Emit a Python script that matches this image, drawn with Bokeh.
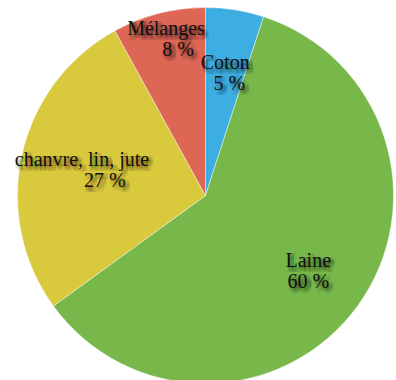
import numpy as np
from bokeh.plotting import figure
from bokeh.models import ColumnDataSource, Range1d
from bokeh.core.properties import value
from bokeh.embed import file_html
from bokeh.resources import INLINE

# ---- data ----
categories = ["Coton", "Laine", "chanvre, lin, jute", "Mélanges"]
percent = [5, 60, 27, 8]
colors = ["#3DAEE2", "#78B84B", "#D9C93C", "#DD6655"]

# ---- layout ----
W, H = 396, 380
cx, cy, R = 205, H - 195, 188
# label anchors: angle clockwise from top (deg), distance from centre (px)
label_angle = [10, 126, 283, 348]
label_dist = [125, 127, 115, 161]
# horizontal offsets of line 1 / line 2 inside each label
line1_dx = [-2, 0, -11.5, -6]
line2_dx = [2, 0, 11.5, 6]
line_gap = 10.5

vals = np.array(percent, dtype=float)
cum = np.concatenate([[0], np.cumsum(vals)])[:-1]
start = np.pi / 2 - 2 * np.pi * cum / vals.sum()
end = start - 2 * np.pi * vals / vals.sum()

src = ColumnDataSource(dict(x=[cx] * 4, y=[cy] * 4, start=start, end=end, color=colors))

p = figure(width=W, height=H, x_range=Range1d(0, W), y_range=Range1d(0, H),
           output_backend="svg", toolbar_location=None, min_border=0)
p.axis.visible = False
p.grid.visible = False
p.outline_line_color = None
p.background_fill_color = "white"
p.border_fill_color = "white"

p.wedge(x="x", y="y", radius=R, start_angle="start", end_angle="end",
        direction="clock", fill_color="color", line_color="white",
        line_width=0.6, line_alpha=0.7, source=src)

ang = np.deg2rad(np.array(label_angle, dtype=float))
ax = cx + np.array(label_dist) * np.sin(ang)
ay = cy + np.array(label_dist) * np.cos(ang)

tx, ty, tt = [], [], []
for i, c in enumerate(categories):
    tx += [ax[i] + line1_dx[i], ax[i] + line2_dx[i]]
    ty += [ay[i] + line_gap, ay[i] - line_gap]
    tt += [c, f"{percent[i]} %"]

font = value("Liberation Serif")
# soft shadow
for dx in range(0, 6):
    for dy in range(0, 6):
        p.text(x=[v + dx for v in tx], y=[v - dy for v in ty], text=tt,
               text_font=font, text_font_size="20px", text_align="center",
               text_baseline="middle", text_color="black", text_alpha=0.045)
p.text(x=tx, y=ty, text=tt, text_font=font, text_font_size="20px",
       text_align="center", text_baseline="middle", text_color="#111111")

open("out.html", "w").write(file_html(p, INLINE))
